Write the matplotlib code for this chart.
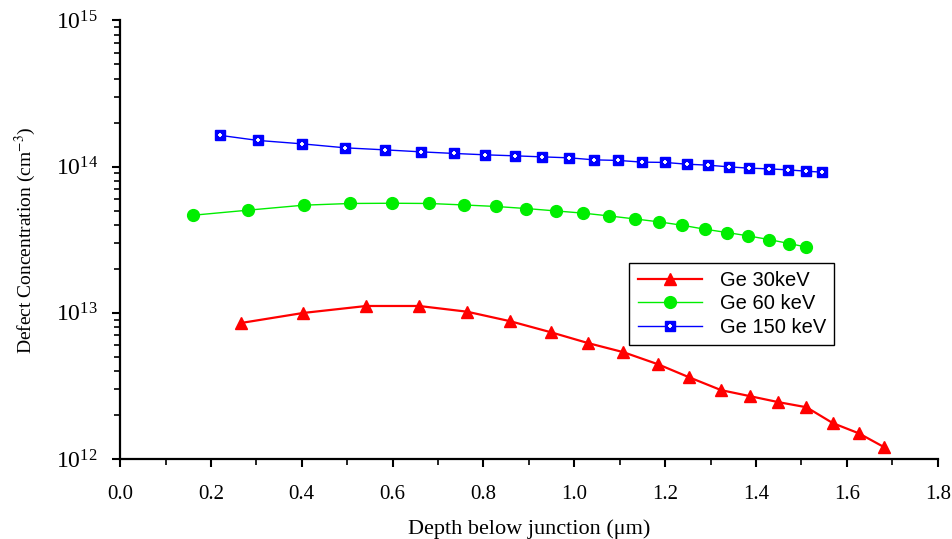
import matplotlib
matplotlib.use('Agg')
import matplotlib.pyplot as plt
from matplotlib.ticker import MultipleLocator, LogLocator, NullFormatter

plt.rcParams['font.family'] = ['Liberation Serif', 'DejaVu Serif']
plt.rcParams['mathtext.fontset'] = 'stix'

# Ge 30keV
x30 = [0.267, 0.403, 0.542, 0.658, 0.764, 0.859, 0.948, 1.031, 1.108, 1.184,
       1.252, 1.323, 1.387, 1.449, 1.511, 1.569, 1.626, 1.681]
y30 = [8.53e12, 9.98e12, 1.114e13, 1.114e13, 1.018e13, 8.76e12, 7.37e12, 6.20e12,
       5.38e12, 4.45e12, 3.63e12, 2.96e12, 2.69e12, 2.45e12, 2.26e12, 1.76e12,
       1.50e12, 1.21e12]

# Ge 60 keV
x60 = [0.160, 0.282, 0.404, 0.507, 0.598, 0.680, 0.757, 0.828, 0.894, 0.959,
       1.019, 1.077, 1.133, 1.187, 1.238, 1.288, 1.337, 1.383, 1.429, 1.473, 1.510]
y60 = [4.65e13, 5.04e13, 5.45e13, 5.60e13, 5.62e13, 5.60e13, 5.47e13, 5.34e13,
       5.17e13, 4.98e13, 4.81e13, 4.60e13, 4.39e13, 4.19e13, 3.97e13, 3.73e13,
       3.54e13, 3.36e13, 3.17e13, 2.98e13, 2.82e13]

# Ge 150 keV
x150 = [0.221, 0.303, 0.400, 0.496, 0.583, 0.662, 0.736, 0.804, 0.869, 0.929,
        0.989, 1.044, 1.097, 1.149, 1.199, 1.247, 1.294, 1.340, 1.384, 1.428,
        1.470, 1.510, 1.545]
y150 = [1.636e14, 1.512e14, 1.433e14, 1.345e14, 1.303e14, 1.263e14, 1.231e14,
        1.205e14, 1.186e14, 1.167e14, 1.149e14, 1.113e14, 1.103e14, 1.074e14,
        1.069e14, 1.040e14, 1.024e14, 9.97e13, 9.77e13, 9.66e13, 9.51e13,
        9.31e13, 9.17e13]

fig = plt.figure(figsize=(9.53, 5.39), dpi=100)
ax = fig.add_axes([0.126, 0.1484, 0.858, 0.8136])

l30, = ax.plot(x30, y30, color='#ff0000', lw=1.6, marker='^', ms=9, mec='#ff0000')
l60, = ax.plot(x60, y60, color='#00ee00', lw=1.0, marker='o', ms=8.5, mec='#00ee00')
l150, = ax.plot(x150, y150, color='#0000ff', lw=1.0, marker='s', ms=7, mec='#0000ff')
p150, = ax.plot(x150, y150, ls='none', marker='+', ms=3.5, mew=1.3, color='white')

ax.set_yscale('log')
ax.set_xlim(0, 1.8)
ax.set_ylim(1e12, 1e15)

ax.xaxis.set_major_locator(MultipleLocator(0.2))
ax.xaxis.set_minor_locator(MultipleLocator(0.1))
ax.yaxis.set_major_locator(LogLocator(base=10, numticks=10))
ax.yaxis.set_minor_locator(LogLocator(base=10, subs=range(2, 10), numticks=10))
ax.yaxis.set_minor_formatter(NullFormatter())

for s in ['top', 'right']:
    ax.spines[s].set_visible(False)
for s in ['left', 'bottom']:
    ax.spines[s].set_linewidth(1.6)

ax.tick_params(axis='both', which='major', direction='out', length=6, width=1.5)
ax.tick_params(axis='both', which='minor', direction='out', length=4, width=1.2)
ax.tick_params(axis='x', which='major', labelsize=15, pad=13)
ax.tick_params(axis='y', which='major', labelsize=17, pad=10)

ax.set_xlabel('Depth below junction (μm)', fontsize=16, labelpad=11)
ax.set_ylabel('Defect Concentration (cm$^{-3}$)', fontsize=14, labelpad=13)

leg = ax.legend([l30, l60, (l150, p150)], ['Ge 30keV', 'Ge 60 keV', 'Ge 150 keV'],
                loc='upper left', bbox_to_anchor=(0.623, 0.447), borderaxespad=0,
                fancybox=False, edgecolor='black', framealpha=1, borderpad=0.4,
                handlelength=3.2, handletextpad=0.9, labelspacing=0.22,
                prop={'family': 'Liberation Sans', 'size': 14.5})
leg.get_frame().set_linewidth(1.0)

plt.savefig('out.png', dpi=100)
